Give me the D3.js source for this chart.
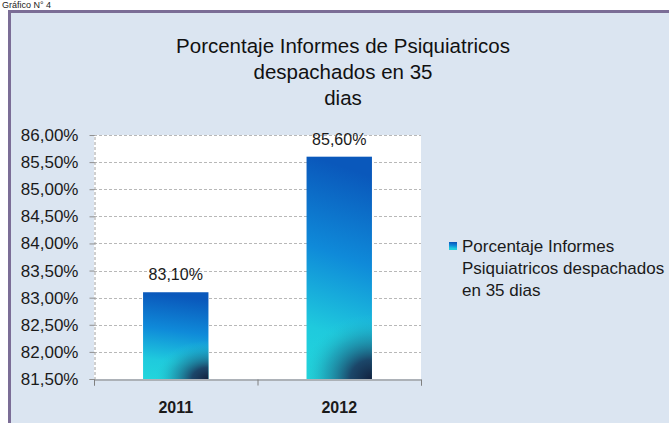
<!DOCTYPE html>
<html><head><meta charset="utf-8">
<script src="https://cdn.jsdelivr.net/npm/d3@7"></script>
<style>body{margin:0;background:#fff}svg{display:block}</style>
</head><body>
<script>
const categories = ["2011", "2012"];
const values = [83.10, 85.60];
const valueLabels = ["83,10%", "85,60%"];
const yTicks = [81.5, 82, 82.5, 83, 83.5, 84, 84.5, 85, 85.5, 86];
const titleLines = ["Porcentaje Informes de Psiquiatricos", "despachados en 35", "dias"];
const legendLines = ["Porcentaje Informes", "Psiquiatricos despachados", "en 35 dias"];

const W = 669, H = 423;
const svg = d3.select("body").append("svg").attr("width", W).attr("height", H);
const font = "'Liberation Sans', Arial, sans-serif";

const plot = {left: 94, right: 421, top: 135, bottom: 379};
const x = d3.scaleBand().domain(categories).range([plot.left, plot.right]).paddingInner(0.6).paddingOuter(0.3);
const y = d3.scaleLinear().domain([81.5, 86]).range([plot.bottom, plot.top]);

const defs = svg.append("defs");
const lg = defs.append("linearGradient").attr("id", "barLin").attr("x1", 0.1).attr("y1", 0).attr("x2", 0).attr("y2", 1);
[["0%", "#0a58bb"], ["40%", "#0f8ad9"], ["76%", "#1fcadd"], ["100%", "#22d6dc"]].forEach(s =>
  lg.append("stop").attr("offset", s[0]).attr("stop-color", s[1]));

categories.forEach((c, i) => {
  const bx = x(c) + x.bandwidth(), by = plot.bottom;
  const rg = defs.append("radialGradient").attr("id", "barRad" + i)
    .attr("gradientUnits", "userSpaceOnUse").attr("cx", bx).attr("cy", by).attr("r", i === 0 ? 55 : 72)
    .attr("gradientTransform", `translate(${bx},${by}) scale(1,${i === 0 ? 0.7 : 0.9}) translate(${-bx},${-by})`);
  [["0%", "#13223f", 1], ["30%", "#1b3f63", 0.95], ["65%", "#1e7f9c", 0.5], ["100%", "#22d4dc", 0]].forEach(s =>
    rg.append("stop").attr("offset", s[0]).attr("stop-color", s[1]).attr("stop-opacity", s[2]));
});

// caption at top
svg.append("text").attr("x", 2).attr("y", 8).attr("font-family", font).attr("font-size", 9)
  .attr("fill", "#222").text("Gráfico N° 4");

// outer panel
svg.append("rect").attr("x", 9.5).attr("y", 11.5).attr("width", W).attr("height", H)
  .attr("fill", "#dbe5f1").attr("stroke", "#7b6d96").attr("stroke-width", 3);

// title
svg.append("g").selectAll("text").data(titleLines).join("text")
  .attr("x", 343).attr("y", (d, i) => 53 + i * 26)
  .attr("text-anchor", "middle").attr("font-family", font).attr("font-size", 20.5)
  .attr("fill", "#111").text(d => d);

svg.append("rect").attr("x", plot.left).attr("y", plot.top)
  .attr("width", plot.right - plot.left).attr("height", plot.bottom - plot.top).attr("fill", "#fff");

// gridlines
svg.append("g").selectAll("line").data(yTicks.slice(1)).join("line")
  .attr("x1", plot.left).attr("x2", plot.right)
  .attr("y1", d => Math.round(y(d)) + 0.5).attr("y2", d => Math.round(y(d)) + 0.5)
  .attr("stroke", "#b8b8b8").attr("stroke-dasharray", "3,2");

// y axis
const yAxis = d3.axisLeft(y).tickValues(yTicks).tickSize(5).tickPadding(11)
  .tickFormat(d => d3.format(".2f")(d).replace(".", ",") + "%");
const gy = svg.append("g").attr("transform", `translate(${plot.left + 0.5},0)`).call(yAxis);
gy.select(".domain").attr("stroke", "#a0a0a0").attr("stroke-dasharray", "3,2");
gy.selectAll(".tick line").attr("stroke", "#909090");
gy.selectAll("text").attr("font-family", font).attr("font-size", 17).attr("fill", "#1a1a1a");

// bars
const bars = svg.append("g");
bars.selectAll("rect.b").data(values).join("rect").attr("class", "b")
  .attr("x", (d, i) => x(categories[i])).attr("width", x.bandwidth())
  .attr("y", d => y(d)).attr("height", d => y(81.5) - y(d)).attr("fill", "url(#barLin)");
bars.selectAll("rect.r").data(values).join("rect").attr("class", "r")
  .attr("x", (d, i) => x(categories[i])).attr("width", x.bandwidth())
  .attr("y", d => y(d)).attr("height", d => y(81.5) - y(d)).attr("fill", (d, i) => `url(#barRad${i})`);

// x axis
const xAxis = d3.axisBottom(d3.scaleLinear().domain([0, 2]).range([plot.left, plot.right]))
  .tickValues([0, 1, 2]).tickSize(6).tickFormat("");
const gx = svg.append("g").attr("transform", `translate(0,${plot.bottom + 0.5})`).call(xAxis);
gx.select(".domain").attr("stroke", "#7f7f7f");
gx.selectAll(".tick line").attr("stroke", "#7f7f7f");
svg.append("g").selectAll("text").data(categories).join("text")
  .attr("x", d => x(d) + x.bandwidth() / 2).attr("y", 413)
  .attr("text-anchor", "middle").attr("font-family", font).attr("font-size", 16)
  .attr("font-weight", "bold").attr("fill", "#1a1a1a").text(d => d);

// value labels
svg.append("g").selectAll("text").data(values).join("text")
  .attr("x", (d, i) => x(categories[i]) + x.bandwidth() / 2).attr("y", d => y(d) - 12)
  .attr("text-anchor", "middle").attr("font-family", font).attr("font-size", 16)
  .attr("fill", "#1a1a1a").text((d, i) => valueLabels[i]);

// legend
svg.append("rect").attr("x", 449).attr("y", 242).attr("width", 8).attr("height", 8).attr("fill", "url(#barLin)");
svg.append("g").selectAll("text").data(legendLines).join("text")
  .attr("x", 462).attr("y", (d, i) => 252 + i * 22)
  .attr("font-family", font).attr("font-size", 17).attr("fill", "#1a1a1a").text(d => d);
</script>
</body></html>
